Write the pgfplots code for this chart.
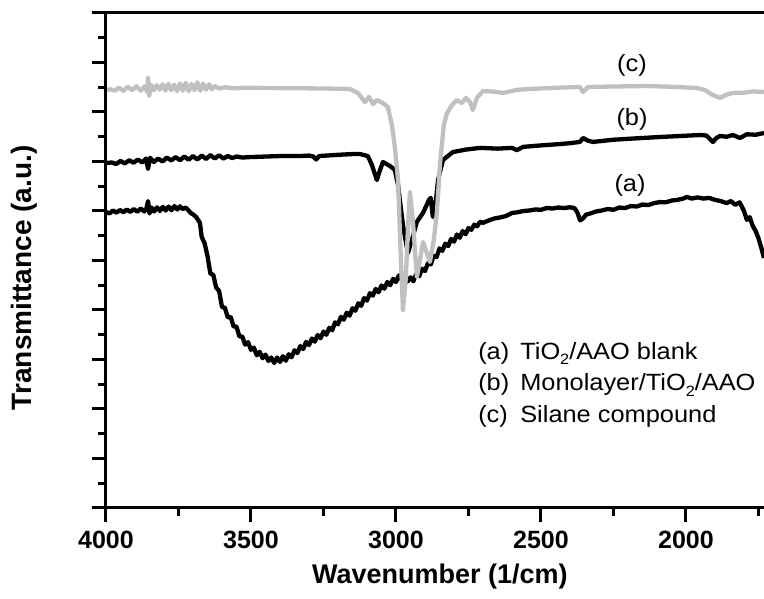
\documentclass[border=0pt]{standalone}
\usepackage{pgfplots}
\pgfplotsset{compat=1.18}
\usepackage{fontspec}
\setmainfont{Liberation Sans}
\newfontfamily\legfont[FakeStretch=1.08]{Liberation Sans}
\definecolor{lgray}{RGB}{192,192,192}
\begin{document}
\begin{tikzpicture}
\path[use as bounding box] (-106pt,-91pt) rectangle (658pt,508pt);
\begin{axis}[
  scale only axis, width=658pt, height=495pt,
  at={(0pt,0pt)}, anchor=south west,
  x dir=reverse,
  xmin=1731, xmax=4000, ymin=0, ymax=20,
  clip=false,
  axis line style={draw=none},
  xtick={2000,2500,3000,3500,4000},
  xticklabels={2000,2500,3000,3500,4000},
  minor xtick={1750,2250,2750,3250,3750},
  ytick={0,2,...,20}, yticklabels={},
  minor ytick={1,3,...,19},
  tick align=outside,
  xtick pos=left, ytick pos=left,
  major tick length=14pt, minor tick length=8pt,
  every tick/.style={line width=3pt, black},
  xticklabel style={font=\bfseries\fontsize{25}{25}\selectfont, anchor=base, yshift=-27pt},
  xlabel={Wavenumber (1/cm)},
  ylabel={Transmittance (a.u.)},
  xlabel style={font=\bfseries\fontsize{27}{27}\selectfont, at={(axis description cs:0.5076,-0.139)}, anchor=center},
  ylabel style={font=\bfseries\fontsize{28}{28}\selectfont, at={(axis description cs:-0.1246,0.465)}, anchor=center},
  every axis plot/.append style={line width=4.3pt, line join=round},
]
% (a) TiO2/AAO blank
\addplot[black] coordinates {
(4000,11.96)(3988,11.90)(3976,12.02)(3964,11.93)(3952,12.04)(3940,11.95)(3928,12.06)(3916,11.96)(3904,12.08)(3892,11.97)
(3880,12.10)(3868,11.98)(3860,12.12)(3855,12.40)(3850,11.90)(3843,12.14)(3834,11.98)(3824,12.15)(3814,12.00)(3804,12.17)
(3794,12.02)(3784,12.18)(3774,12.03)(3764,12.20)(3754,12.06)(3745,12.19)(3735,12.08)(3725,12.14)(3715,12.02)(3708,11.92)
(3698,11.85)(3688,11.74)(3676,11.52)(3670,10.95)(3660,10.70)
(3650,10.18)(3640,9.47)(3630,9.42)(3620,8.90)(3610,8.77)(3600,8.12)(3590,8.09)(3580,7.70)(3570,7.72)(3560,7.33)
(3550,7.33)(3540,6.93)(3530,6.93)(3520,6.60)(3510,6.70)(3500,6.39)(3490,6.48)(3480,6.17)(3470,6.31)(3460,6.05)
(3450,6.20)(3440,5.94)(3430,6.08)(3420,5.86)(3410,6.08)(3400,5.90)(3390,6.13)(3380,5.95)(3370,6.21)(3360,6.09)
(3350,6.37)(3340,6.26)(3330,6.54)(3320,6.42)(3310,6.71)(3300,6.58)(3290,6.85)(3280,6.72)(3270,6.99)(3260,6.86)
(3250,7.13)(3240,7.00)(3230,7.28)(3220,7.18)(3210,7.50)(3200,7.42)(3190,7.72)(3180,7.61)(3170,7.89)(3160,7.77)
(3150,8.07)(3140,7.97)(3130,8.27)(3120,8.17)(3110,8.48)(3100,8.38)(3090,8.68)(3080,8.58)(3070,8.85)(3060,8.72)
(3050,8.99)(3040,8.86)(3030,9.13)(3020,9.00)(3010,9.26)(3000,9.13)(2990,9.40)(2980,9.21)(2970,9.38)(2960,9.15)
(2950,9.32)(2940,9.16)(2930,9.46)(2920,9.36)(2910,9.67)(2900,9.57)(2890,9.89)(2880,9.84)(2870,10.19)(2860,10.14)
(2850,10.49)(2840,10.39)(2830,10.68)(2820,10.58)(2810,10.87)(2800,10.76)(2790,11.05)(2780,10.92)(2770,11.19)(2760,11.06)
(2750,11.31)(2740,11.24)(2730,11.45)(2720,11.38)(2710,11.57)
(2700,11.52)(2680,11.62)(2660,11.70)(2640,11.74)(2620,11.80)(2600,11.92)(2580,11.95)(2560,12.00)(2540,12.02)(2520,12.06)
(2500,12.05)(2480,12.12)(2460,12.10)(2440,12.14)(2420,12.12)(2400,12.15)(2385,12.12)(2375,11.95)(2365,11.62)(2355,11.70)
(2345,11.85)(2330,11.90)(2310,11.98)(2290,12.02)(2270,12.08)(2250,12.05)(2230,12.14)(2210,12.12)(2190,12.20)(2170,12.18)
(2150,12.26)(2130,12.24)(2110,12.32)(2090,12.36)(2070,12.35)(2050,12.42)(2030,12.45)(2010,12.50)(1997,12.57)(1980,12.50)
(1960,12.55)(1940,12.50)(1920,12.53)(1900,12.45)(1880,12.40)(1860,12.32)(1845,12.40)(1830,12.25)(1815,12.35)(1800,12.00)
(1790,11.64)(1780,11.75)(1770,11.40)(1760,11.20)(1750,10.90)(1740,10.50)(1731,10.10)
};
% (b) Monolayer/TiO2/AAO
\addplot[black] coordinates {
(4000,13.94)(3980,13.96)(3965,13.90)(3950,14.02)(3935,13.92)(3920,14.05)(3905,13.95)(3890,14.08)(3875,13.96)(3862,14.12)
(3855,13.70)(3848,14.15)(3835,13.98)(3820,14.12)(3805,14.00)(3790,14.16)(3775,14.04)(3760,14.18)(3745,14.05)(3730,14.20)
(3715,14.07)(3700,14.22)(3685,14.08)(3670,14.24)(3655,14.10)(3640,14.26)(3625,14.12)(3610,14.25)(3595,14.12)(3580,14.22)
(3565,14.14)(3550,14.20)(3530,14.16)(3500,14.18)(3450,14.20)(3400,14.22)(3331,14.22)(3300,14.24)(3285,14.20)(3275,14.08)
(3265,14.22)(3200,14.27)(3150,14.30)(3124,14.30)(3097,14.22)(3083,13.86)(3066,13.25)(3055,13.66)(3045,13.98)(3021,13.82)
(3004,13.66)(2993,13.05)(2976,11.43)(2959,10.30)(2945,10.83)(2928,11.56)(2907,11.92)(2886,12.45)(2880,12.53)(2873,11.76)
(2862,12.44)(2855,13.25)(2838,14.06)(2804,14.38)(2760,14.48)(2710,14.55)(2650,14.52)(2600,14.55)(2583,14.46)(2562,14.59)
(2500,14.65)(2440,14.70)(2400,14.74)(2366,14.79)(2355,14.95)(2340,14.85)(2321,14.79)(2250,14.88)(2180,14.93)(2090,14.99)
(2020,15.03)(1952,15.07)(1930,15.05)(1907,14.79)(1895,14.95)(1883,15.03)(1860,15.00)(1838,15.07)(1814,14.95)(1790,15.10)
(1760,15.08)(1731,15.15)
};
% (c) Silane compound
\addplot[lgray] coordinates {
(4000,16.89)(3985,16.92)(3970,16.86)(3955,16.98)(3940,16.85)(3925,17.02)(3910,16.88)(3895,17.04)(3880,16.86)(3865,17.05)
(3858,16.80)(3855,17.37)(3851,16.65)(3845,17.10)(3835,16.88)(3825,17.08)(3815,16.90)(3805,17.12)(3795,16.86)(3785,17.14)
(3775,16.88)(3765,17.10)(3755,16.84)(3745,17.15)(3735,16.86)(3725,17.18)(3715,16.84)(3705,17.14)(3695,16.88)(3685,17.20)
(3675,16.86)(3665,17.15)(3655,16.90)(3645,17.12)(3635,16.92)(3625,17.05)(3610,16.95)(3590,17.00)(3560,16.96)(3520,16.98)
(3450,16.97)(3350,16.96)(3250,16.95)(3159,16.93)(3131,16.77)(3107,16.40)(3093,16.61)(3079,16.32)(3066,16.48)(3045,16.36)
(3028,16.20)(3014,15.47)(3004,14.60)(2993,13.25)(2983,10.02)(2976,8.00)(2966,9.30)(2959,11.23)(2952,12.77)(2942,11.63)
(2928,9.33)(2917,10.02)(2907,10.75)(2897,10.42)(2883,9.94)(2870,10.80)(2859,11.92)(2848,13.94)(2835,15.47)(2824,15.96)
(2807,16.28)(2790,16.48)(2773,16.36)(2759,16.57)(2745,16.40)(2735,16.08)(2721,16.57)(2700,16.85)(2660,16.82)(2631,16.77)
(2580,16.90)(2538,16.93)(2450,16.98)(2366,17.01)(2355,16.81)(2338,17.01)(2250,17.03)(2135,17.05)(2050,17.02)(1962,16.97)
(1935,16.89)(1910,16.70)(1883,16.57)(1860,16.70)(1838,16.77)(1800,16.78)(1770,16.83)(1731,16.81)
};
\node[font=\legfont\fontsize{23.5}{23.5}\selectfont] at (axis cs:2186,17.9) {(c)};
\node[font=\legfont\fontsize{23.5}{23.5}\selectfont] at (axis cs:2186,15.68) {(b)};
\node[font=\legfont\fontsize{23.5}{23.5}\selectfont] at (axis cs:2193,13.05) {(a)};
\node[font=\legfont\fontsize{23.5}{23.5}\selectfont, anchor=base west, inner sep=0pt] at (axis cs:2717,6.02) {(a)};
\node[font=\legfont\fontsize{23.5}{23.5}\selectfont, anchor=base west, inner sep=0pt] at (axis cs:2572,6.02) {TiO\raisebox{-0.45ex}{\fontsize{15}{15}\selectfont 2}/AAO blank};
\node[font=\legfont\fontsize{23.5}{23.5}\selectfont, anchor=base west, inner sep=0pt] at (axis cs:2717,4.73) {(b)};
\node[font=\legfont\fontsize{23.5}{23.5}\selectfont, anchor=base west, inner sep=0pt] at (axis cs:2572,4.73) {Monolayer/TiO\raisebox{-0.45ex}{\fontsize{15}{15}\selectfont 2}/AAO};
\node[font=\legfont\fontsize{23.5}{23.5}\selectfont, anchor=base west, inner sep=0pt] at (axis cs:2717,3.47) {(c)};
\node[font=\legfont\fontsize{23.5}{23.5}\selectfont, anchor=base west, inner sep=0pt] at (axis cs:2572,3.47) {Silane compound};
\draw[line width=3pt, line cap=rect] (axis cs:1731,0) -- (axis cs:4000,0) -- (axis cs:4000,20) -- (axis cs:1731,20);
\end{axis}
\end{tikzpicture}
\end{document}
